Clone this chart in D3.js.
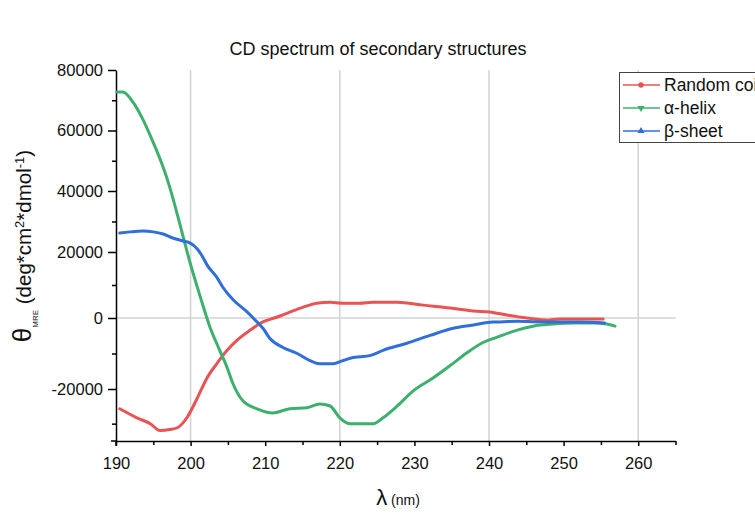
<!DOCTYPE html>
<html><head><meta charset="utf-8">
<script src="https://cdn.jsdelivr.net/npm/d3@7"></script>
<style>body{margin:0;background:#fff}svg{display:block;font-family:"Liberation Sans",Arial,sans-serif}</style>
</head><body><svg id="c" width="755" height="513"></svg>
<script>
const seriesNames = ["Random coil", "\u03b1-helix", "\u03b2-sheet"];
const randomCoil = [[190.5,-25700],[192.8,-28300],[194.6,-30000],[195.9,-32000],[197.2,-31700],[198.3,-31100],[199.5,-28300],[200.9,-22600],[202.2,-16900],[203.5,-12900],[204.9,-9100],[206.2,-6300],[208.0,-3400],[209.7,-1100],[211.6,300],[213.3,1800],[215.1,3300],[216.9,4500],[218.7,4800],[220.4,4500],[222.7,4500],[224.4,4800],[227.7,4800],[231.2,3900],[234.8,3000],[237.9,2100],[240.1,1800],[242.4,900],[245.1,0],[247.8,-600],[249.5,-300],[252.2,-300],[255.3,-300]];
const alphaHelix = [[190.1,72700],[190.9,72700],[192.3,69300],[193.6,63700],[195.0,56000],[196.3,48000],[197.2,41300],[198.2,32500],[199.0,25000],[199.9,17000],[201.3,6400],[202.6,-2600],[203.9,-9100],[204.9,-14000],[205.7,-18600],[207.0,-23400],[208.9,-25700],[211.0,-26900],[213.3,-25700],[215.6,-25400],[217.3,-24300],[218.7,-24900],[220.0,-28300],[221.4,-30000],[224.5,-30000],[225.8,-28300],[227.7,-24900],[229.8,-20600],[232.5,-16900],[234.8,-13400],[237.1,-9700],[239.2,-6900],[241.1,-5400],[243.8,-3400],[245.9,-2300],[248.6,-1700],[251.3,-1400],[253.9,-1400],[255.8,-1700],[256.9,-2300]];
const betaSheet = [[190.5,26200],[191.9,26600],[193.6,26900],[195.0,26600],[196.3,25900],[197.6,24600],[199.0,23600],[199.9,23000],[200.9,21000],[201.7,18200],[202.2,16100],[203.5,12400],[204.3,9400],[205.7,5500],[207.6,1800],[208.9,-1100],[209.7,-2900],[210.6,-5700],[212.4,-8300],[214.3,-10000],[216.0,-12000],[217.3,-12900],[219.1,-12900],[220.4,-12000],[221.8,-11100],[222.7,-10900],[224.0,-10600],[225.8,-9100],[229.0,-7100],[232.1,-4900],[235.2,-2900],[237.9,-2000],[240.5,-1100],[241.5,-1100],[243.8,-900],[246.8,-1100],[249.1,-1100],[252.2,-1100],[255.5,-1400]];
const xMajorTicks = [190,200,210,220,230,240,250,260];
const xMinorTicks = [195,205,215,225,235,245,255,265];
const xGridTicks = [200,220,240,260];
const yMajorTicks = [-20000,0,20000,40000,60000,80000];
const yMinorTicks = [-30000,-10000,10000,30000,50000,70000];
const colors = ["#e85454","#3db06e","#2f6fd8"];

const svg = d3.select("#c");
const L=116, R=675.5, T=70, B=441;
const x = d3.scaleLinear().domain([190,265]).range([L,R]);
const y = d3.scaleLinear().domain([-35000,-20000,0,20000,40000,80000]).range([B,389,318,252,191,T]);

// grid
const grid = svg.append("g").attr("stroke","#d3d3d3").attr("stroke-width",1.5);
grid.selectAll("line.v").data(xGridTicks).join("line").attr("x1",d=>x(d)).attr("x2",d=>x(d)).attr("y1",T).attr("y2",B);
grid.append("line").attr("x1",L).attr("x2",R).attr("y1",y(0)).attr("y2",y(0));

// axes
const fmt = d => String(d);
const xAxis = svg.append("g").attr("transform",`translate(0,${B})`)
  .call(d3.axisBottom(x).tickValues(xMajorTicks).tickFormat(fmt).tickSize(5).tickSizeOuter(0));
svg.append("g").attr("transform",`translate(0,${B})`)
  .call(d3.axisBottom(x).tickValues(xMinorTicks).tickFormat("").tickSize(4).tickSizeOuter(0))
  .select(".domain").remove();
const yAxis = svg.append("g").attr("transform",`translate(${L},0)`)
  .call(d3.axisLeft(y).tickValues(yMajorTicks).tickFormat(fmt).tickSize(8).tickSizeOuter(0));
svg.append("g").attr("transform",`translate(${L},0)`)
  .call(d3.axisLeft(y).tickValues(yMinorTicks).tickFormat("").tickSize(4).tickSizeOuter(0))
  .select(".domain").remove();
svg.selectAll(".domain").attr("stroke","#000").attr("stroke-width",1.5);
svg.selectAll(".tick line").attr("stroke","#000").attr("stroke-width",1.5);
xAxis.selectAll("text").attr("font-size","16.5px").attr("fill","#111").attr("dy","1.2em").attr("font-family","Liberation Sans, Arial, sans-serif");
yAxis.selectAll("text").attr("font-size","16.5px").attr("fill","#111").attr("dx","-2").attr("font-family","Liberation Sans, Arial, sans-serif");
svg.append("line").attr("x1",L).attr("x2",L).attr("y1",B).attr("y2",B+5).attr("stroke","#000").attr("stroke-width",1.5);
svg.append("line").attr("x1",L-5).attr("x2",L).attr("y1",B).attr("y2",B).attr("stroke","#000").attr("stroke-width",1.5);

// lines
const line = d3.line().x(d=>x(d[0])).y(d=>y(d[1])).curve(d3.curveMonotoneX);
[randomCoil, alphaHelix, betaSheet].forEach((s,i)=>{
  svg.append("path").datum(s).attr("d",line).attr("fill","none").attr("stroke",colors[i]).attr("stroke-width",3).attr("stroke-linejoin","round").attr("stroke-linecap","round");
});

// title
svg.append("text").attr("x",378).attr("y",55).attr("text-anchor","middle").attr("font-size","18px").attr("fill","#111").text("CD spectrum of secondary structures");

// x label
const xl = svg.append("text").attr("x",398).attr("y",505).attr("text-anchor","middle").attr("fill","#111");
xl.append("tspan").attr("font-size","22px").text("\u03bb");
xl.append("tspan").attr("font-size","14px").text(" (nm)");

// y label
const yl = svg.append("text").attr("transform","translate(31,246) rotate(-90)").attr("text-anchor","middle").attr("fill","#111");
yl.append("tspan").attr("font-size","26px").text("\u03b8");
yl.append("tspan").attr("font-size","8px").attr("dy","7").text("MRE");
yl.append("tspan").attr("font-size","20.5px").attr("dy","-7").text(" (deg*cm");
yl.append("tspan").attr("font-size","13px").attr("dy","-7").text("2");
yl.append("tspan").attr("font-size","20.5px").attr("dy","7").text("*dmol");
yl.append("tspan").attr("font-size","13px").attr("dy","-7").text("-1");
yl.append("tspan").attr("font-size","20.5px").attr("dy","7").text(")");

// legend
const lg = svg.append("g");
lg.append("rect").attr("x",619.5).attr("y",72.5).attr("width",160).attr("height",70).attr("fill","#fff").attr("stroke","#444").attr("stroke-width",1);
const symbols = [d3.symbolCircle, d3.symbolTriangle, d3.symbolTriangle];
const rots = [0,180,0];
seriesNames.forEach((n,i)=>{
  const yy = 85 + i*23;
  lg.append("line").attr("x1",623).attr("x2",660).attr("y1",yy).attr("y2",yy).attr("stroke",colors[i]).attr("stroke-width",1.5);
  lg.append("path").attr("d",d3.symbol().type(symbols[i]).size(i===0?24:22)()).attr("transform",`translate(641,${yy}) rotate(${rots[i]})`).attr("fill",colors[i]);
  lg.append("text").attr("x",664).attr("y",yy+6).attr("font-size","17.5px").attr("fill","#111").text(n);
});
</script></body></html>
